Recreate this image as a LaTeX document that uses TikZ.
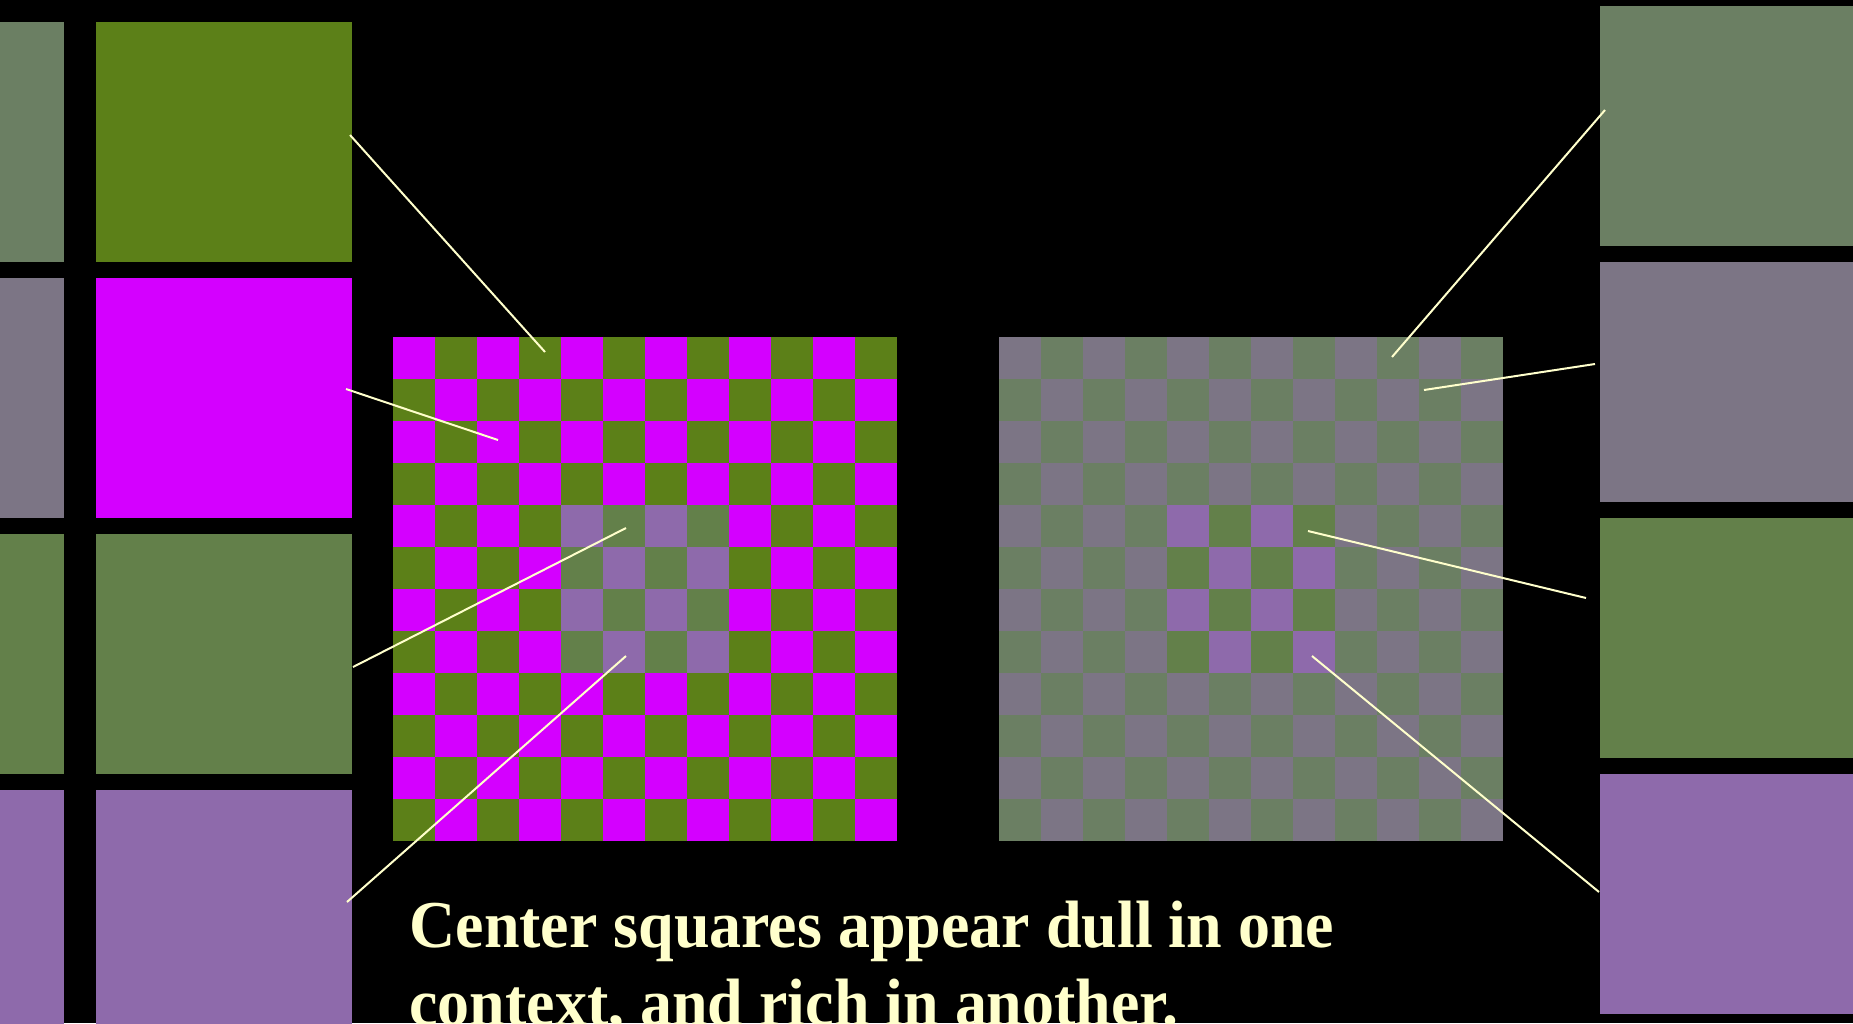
\documentclass[tikz,border=0pt]{standalone}
\usepackage{fontspec}
\setmainfont{Liberation Serif}
\newfontfamily\captionfont[FakeStretch=0.955]{Liberation Serif}
\usepackage{xcolor}
\usepackage{tikz}
\usetikzlibrary{positioning,calc}

\definecolor{brightOlive}{HTML}{5C8018}
\definecolor{brightMagenta}{HTML}{D400FF}
\definecolor{dullGreen}{HTML}{6B7F63}
\definecolor{dullPurple}{HTML}{7C7585}
\definecolor{richGreen}{HTML}{63804A}
\definecolor{richPurple}{HTML}{8E6AAB}
\definecolor{paleYellow}{HTML}{FFFFCC}

\begin{document}
\begin{tikzpicture}[x=0.5pt, y=-0.5pt,
    swatch/.style={inner sep=0pt, minimum width=128pt, minimum height=120pt},
    pointer/.style={paleYellow, line width=1pt}]
    \fill[black] (0,0) rectangle (1853,1023);
    \clip (0,0) rectangle (1853,1023);

    % left column: strips and large swatches
    \foreach \n/\y/\strip/\big in {1/22/dullGreen/brightOlive, 2/278/dullPurple/brightMagenta, 3/534/richGreen/richGreen, 4/790/richPurple/richPurple} {
        \node[swatch, fill=\strip, anchor=north east] (stripL\n) at (64,\y) {};
        \node[swatch, fill=\big, anchor=north west] (sqL\n) at (96,\y) {};
    }

    % right column
    \foreach \n/\y/\col in {1/6/dullGreen, 2/262/dullPurple, 3/518/richGreen, 4/774/richPurple} {
        \node[swatch, fill=\col, anchor=north west] (sqR\n) at (1600,\y) {};
    }

    % bright board
    \fill[brightMagenta] (393,337) rectangle ++(504,504);
    \foreach \r in {0,...,11} {
        \foreach \c in {0,...,11} {
            \pgfmathtruncatemacro\odd{mod(\r+\c,2)}
            \ifnum\odd=1 \fill[brightOlive] (393+42*\c,337+42*\r) rectangle ++(42,42); \fi
        }
    }
    \fill[richPurple] (561,505) rectangle ++(168,168);
    \foreach \r in {4,...,7} {
        \foreach \c in {4,...,7} {
            \pgfmathtruncatemacro\odd{mod(\r+\c,2)}
            \ifnum\odd=1 \fill[richGreen] (393+42*\c,337+42*\r) rectangle ++(42,42); \fi
        }
    }

    % dull board
    \fill[dullPurple] (999,337) rectangle ++(504,504);
    \foreach \r in {0,...,11} {
        \foreach \c in {0,...,11} {
            \pgfmathtruncatemacro\odd{mod(\r+\c,2)}
            \ifnum\odd=1 \fill[dullGreen] (999+42*\c,337+42*\r) rectangle ++(42,42); \fi
        }
    }
    \fill[richPurple] (1167,505) rectangle ++(168,168);
    \foreach \r in {4,...,7} {
        \foreach \c in {4,...,7} {
            \pgfmathtruncatemacro\odd{mod(\r+\c,2)}
            \ifnum\odd=1 \fill[richGreen] (999+42*\c,337+42*\r) rectangle ++(42,42); \fi
        }
    }

    % pointer ends
    \coordinate (tipL1) at (350,135);   \coordinate (cellL1) at (545,352);
    \coordinate (tipL2) at (346,389);   \coordinate (cellL2) at (498,440);
    \coordinate (tipL3) at (353,667);   \coordinate (cellL3) at (626,528);
    \coordinate (tipL4) at (347,902);   \coordinate (cellL4) at (626,656);
    \coordinate (tipR1) at (1605,110);  \coordinate (cellR1) at (1392,357);
    \coordinate (tipR2) at (1595,364);  \coordinate (cellR2) at (1424,390);
    \coordinate (tipR3) at (1586,598);  \coordinate (cellR3) at (1308,531);
    \coordinate (tipR4) at (1599,892);  \coordinate (cellR4) at (1312,656);

    \foreach \p in {L1,L2,L3,L4,R1,R2,R3,R4}
        \draw[pointer] (tip\p) -- (cell\p);

    % base anchor sits on the last line
    \node[anchor=base west, inner sep=0pt, align=left, text=paleYellow,
          font=\captionfont\bfseries\fontsize{33.5}{39}\selectfont] (caption) at (409,1025)
        {Center squares appear dull in one\\context, and rich in another.};
\end{tikzpicture}
\end{document}
